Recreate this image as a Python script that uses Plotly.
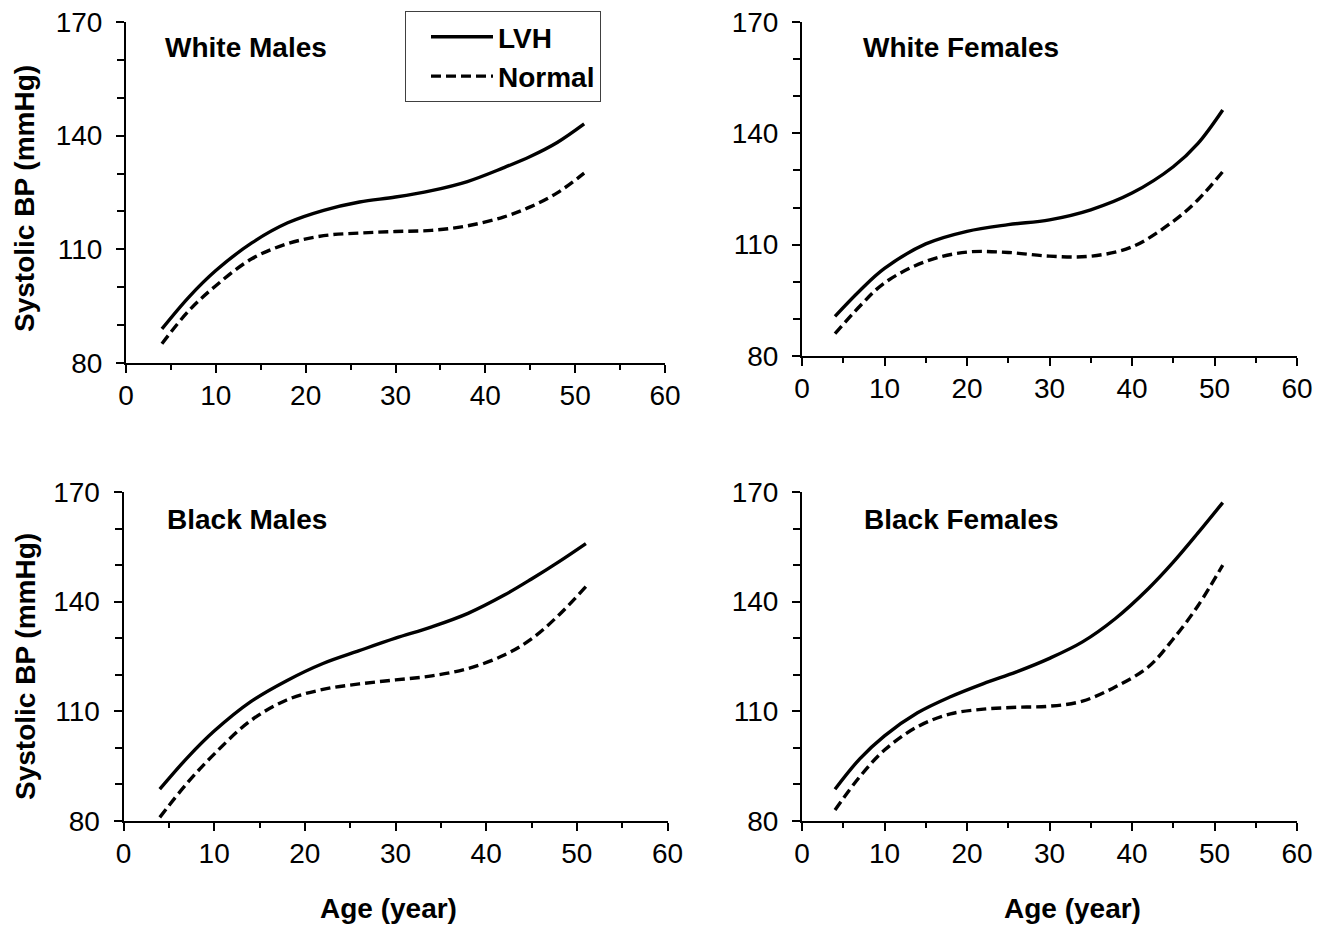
import plotly.graph_objects as go

# ---- data ----
age = [4, 7, 10, 14, 18, 22, 26, 30, 34, 38, 42, 45, 48, 51]
age_wf = [4, 7, 10, 15, 20, 25, 30, 35, 40, 45, 48, 51]

wm_lvh = [89.0, 97.4, 104.4, 111.7, 117.0, 120.3, 122.5, 123.8, 125.5, 127.9, 131.5, 134.5, 138.2, 143.1]
wm_normal = [85.1, 93.8, 100.4, 107.5, 111.5, 113.6, 114.3, 114.7, 115.0, 116.2, 118.5, 121.2, 124.9, 130.1]

wf_lvh = [90.7, 97.6, 103.6, 110.2, 113.6, 115.4, 116.7, 119.4, 123.9, 131.0, 137.3, 146.3]
wf_normal = [86.0, 93.4, 99.7, 105.5, 108.0, 107.9, 106.9, 106.9, 109.4, 116.3, 122.1, 129.7]

bm_lvh = [88.7, 97.2, 104.6, 112.6, 118.4, 123.1, 126.6, 130.0, 133.1, 136.8, 141.8, 146.2, 150.9, 155.9]
bm_normal = [81.0, 90.3, 98.3, 107.4, 113.1, 116.0, 117.5, 118.6, 119.7, 121.7, 125.4, 129.8, 136.3, 144.1]

bf_lvh = [88.7, 97.0, 103.3, 109.6, 114.0, 117.6, 120.8, 124.5, 129.0, 135.4, 143.6, 150.8, 158.8, 167.1]
bf_normal = [83.0, 92.1, 99.4, 105.8, 109.3, 110.6, 111.1, 111.4, 112.8, 116.7, 122.2, 129.8, 138.9, 150.0]

panel_titles = ["White Males", "White Females", "Black Males", "Black Females"]
series_names = ["LVH", "Normal"]
x_ticks = [0, 10, 20, 30, 40, 50, 60]
y_ticks = [80, 110, 140, 170]

W, H = 1332, 929
FONT = "Liberation Sans, Arial, sans-serif"

def px_x(p):
    return p / W

def px_y(p):
    return 1 - p / H

# panel geometry in pixels: (x0, x1, ytop, ybottom)
panels = [
    (126, 665, 22, 363),
    (802, 1297, 22, 356),
    (123.5, 667.5, 492, 821),
    (802, 1297, 492, 821),
]
data_sets = [
    (age, wm_lvh, wm_normal),
    (age_wf, wf_lvh, wf_normal),
    (age, bm_lvh, bm_normal),
    (age, bf_lvh, bf_normal),
]

fig = go.Figure()
layout_axes = {}
for i, ((x0, x1, yt, yb), (ages, lvh, nrm)) in enumerate(zip(panels, data_sets)):
    n = "" if i == 0 else str(i + 1)
    xa, ya = "x" + n, "y" + n
    fig.add_trace(go.Scatter(
        x=ages, y=lvh, mode="lines", name=series_names[0],
        line=dict(color="black", width=3.4, shape="spline", smoothing=1.0),
        xaxis=xa, yaxis=ya, showlegend=(i == 0), legendrank=1))
    fig.add_trace(go.Scatter(
        x=ages, y=nrm, mode="lines", name=series_names[1],
        line=dict(color="black", width=3.4, dash="10px,5px", shape="spline", smoothing=1.0),
        xaxis=xa, yaxis=ya, showlegend=(i == 0), legendrank=2))
    layout_axes["xaxis" + n] = dict(
        domain=[px_x(x0), px_x(x1)], range=[0, 60], anchor=ya,
        automargin=False,
        showline=True, linecolor="black", linewidth=2,
        ticks="outside", ticklen=8, tickwidth=2, tickcolor="black",
        tickvals=x_ticks, ticktext=[str(v) for v in x_ticks],
        minor=dict(dtick=5, tick0=0, ticks="outside", ticklen=5, tickwidth=2, tickcolor="black", showgrid=False),
        showgrid=False, zeroline=False,
        tickfont=dict(family=FONT, size=28, color="black"),
        ticklabelstandoff=-2,
    )
    layout_axes["yaxis" + n] = dict(
        domain=[px_y(yb), px_y(yt)], range=[80, 170], anchor=xa,
        automargin=False,
        showline=True, linecolor="black", linewidth=2,
        ticks="outside", ticklen=8, tickwidth=2, tickcolor="black",
        tickvals=y_ticks, ticktext=[str(v) for v in y_ticks],
        minor=dict(dtick=10, tick0=80, ticks="outside", ticklen=7, tickwidth=2, tickcolor="black", showgrid=False),
        showgrid=False, zeroline=False,
        tickfont=dict(family=FONT, size=28, color="black"),
        ticklabelstandoff=8,
    )

annotations = []
title_pos = [(163, 48), (861, 47), (165, 519), (862, 519)]
for t, (tx, ty) in zip(panel_titles, title_pos):
    annotations.append(dict(
        text=t, xref="paper", yref="paper", x=px_x(tx), y=px_y(ty),
        xanchor="left", yanchor="middle", showarrow=False,
        font=dict(family=FONT, size=28, color="black", weight="bold")))
for cy in (199, 667):
    annotations.append(dict(
        text="Systolic BP (mmHg)", xref="paper", yref="paper", x=px_x(25), y=px_y(cy),
        xanchor="center", yanchor="middle", textangle=-90, showarrow=False,
        font=dict(family=FONT, size=28, color="black", weight="bold")))
for cx in (388, 1072):
    annotations.append(dict(
        text="Age (year)", xref="paper", yref="paper", x=px_x(cx), y=px_y(908),
        xanchor="center", yanchor="middle", showarrow=False,
        font=dict(family=FONT, size=28, color="black", weight="bold")))

fig.update_layout(
    template="none",
    width=W, height=H,
    margin=dict(l=0, r=0, t=0, b=0, pad=0, autoexpand=False),
    paper_bgcolor="white", plot_bgcolor="white",
    showlegend=True,
    legend=dict(
        x=px_x(405), y=px_y(11), xanchor="left", yanchor="top",
        bordercolor="#404040", borderwidth=1, bgcolor="white",
        font=dict(family=FONT, size=28, color="black", weight="bold"),
        itemwidth=62, indentation=20, tracegroupgap=0,
    ),
    annotations=annotations,
    **layout_axes,
)

fig.write_html("out.html")
